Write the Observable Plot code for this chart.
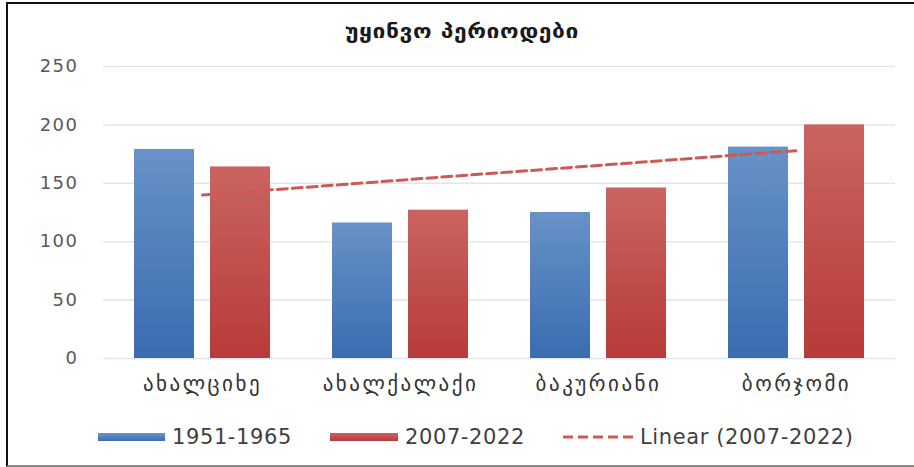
<!DOCTYPE html>
<html>
<head>
<meta charset="utf-8">
<script src="https://cdn.jsdelivr.net/npm/d3@7"></script>
<script src="https://cdn.jsdelivr.net/npm/@observablehq/plot@0.6"></script>
<style>
  html, body { margin: 0; padding: 0; background: #fff; width: 914px; height: 467px; overflow: hidden; }
  #frame { position: absolute; left: 6px; top: 2px; width: 930px; height: 461px;
           border-top: 2px solid #111; border-left: 2px solid #111; border-bottom: 2px solid #8a8a8a; }
  #title { position: absolute; left: 0; width: 924px; top: 19px; text-align: center;
           font-family: "DejaVu Sans"; font-weight: bold; font-size: 19px; color: #1a1a1a; line-height: 24px;
           letter-spacing: 0.5px; transform: scaleX(1.2); transform-origin: 462px 0; }
  #chart { position: absolute; left: 0; top: 0; }
  .leg { position: absolute; font-family: "DejaVu Sans"; font-size: 21px; color: #3f3f3f; line-height: 24px; top: 425px; white-space: nowrap; letter-spacing: 0.6px; }
  .sw { position: absolute; top: 433px; height: 8px; }
  .ytick text { letter-spacing: 1.5px; }
  .xtick text { letter-spacing: 2.5px; }
</style>
</head>
<body>
<div id="frame"></div>
<div id="chart"></div>
<div id="title">უყინვო პერიოდები</div>
<div class="sw" style="left:98px;width:67px;background:linear-gradient(#6a93c8,#3c6eb1);"></div>
<div class="leg" style="left:172px;">1951-1965</div>
<div class="sw" style="left:330px;width:68px;background:linear-gradient(#c9635f,#b83c3a);"></div>
<div class="leg" style="left:405px;">2007-2022</div>
<svg style="position:absolute;left:563px;top:432px;" width="74" height="10">
  <line x1="0" y1="5" x2="74" y2="5" stroke="#cc5a57" stroke-width="3" stroke-dasharray="10,5"/>
</svg>
<div class="leg" style="left:640px;">Linear (2007-2022)</div>
<script>
const categories = ["ახალციხე", "ახალქალაქი", "ბაკურიანი", "ბორჯომი"];
const values1951 = [179, 116, 125, 181];
const values2007 = [164, 127, 146, 200];
const trendCategories = ["ახალციხე", "ბორჯომი"];
const trendValues = [140, 178];
const yTicks = [0, 50, 100, 150, 200, 250];

const rows1951 = categories.map((c, i) => ({category: c, value: values1951[i]}));
const rows2007 = categories.map((c, i) => ({category: c, value: values2007[i]}));
const trendRows = trendCategories.map((c, i) => ({category: c, value: trendValues[i]}));

const plot = Plot.plot({
  width: 914,
  height: 405,
  marginTop: 66,
  marginBottom: 47,
  marginLeft: 103,
  marginRight: 19,
  style: {fontFamily: "DejaVu Sans", background: "transparent"},
  x: {domain: categories, padding: 0, label: null},
  y: {domain: [0, 250], label: null},
  marks: [
    Plot.gridY(yTicks, {stroke: "#dfe6f0", strokeOpacity: 1, strokeWidth: 1.5}),
    Plot.barY(rows1951, {x: "category", y: "value", fill: "url(#gBlue)", insetLeft: 31, insetRight: 107}),
    Plot.barY(rows2007, {x: "category", y: "value", fill: "url(#gRed)", insetLeft: 107, insetRight: 31}),
    Plot.line(trendRows, {x: "category", y: "value", stroke: "#cc5a57", strokeWidth: 3, strokeDasharray: "10,5"}),
    Plot.axisY({ticks: yTicks, tickSize: 0, tickPadding: 25, fontSize: 18, color: "#595959", className: "ytick"}),
    Plot.axisX({tickSize: 0, tickPadding: 18, fontSize: 21, color: "#333", className: "xtick"})
  ]
});

const ns = "http://www.w3.org/2000/svg";
const defs = document.createElementNS(ns, "defs");
defs.innerHTML = `
  <linearGradient id="gBlue" x1="0" y1="0" x2="0" y2="1">
    <stop offset="0" stop-color="#6892c7"/><stop offset="1" stop-color="#3a6cb1"/>
  </linearGradient>
  <linearGradient id="gRed" x1="0" y1="0" x2="0" y2="1">
    <stop offset="0" stop-color="#ca6460"/><stop offset="1" stop-color="#b73b39"/>
  </linearGradient>`;
plot.insertBefore(defs, plot.firstChild);
document.getElementById("chart").appendChild(plot);
</script>
</body>
</html>
